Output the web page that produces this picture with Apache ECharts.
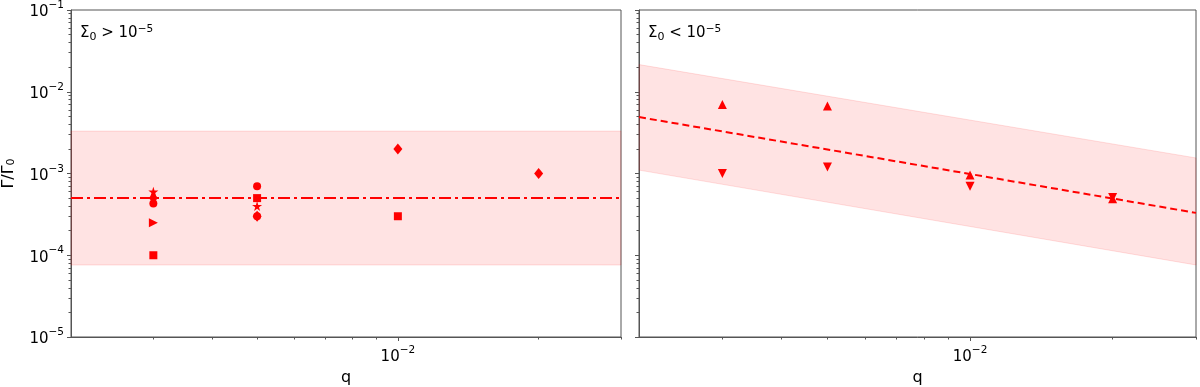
<!DOCTYPE html>
<html>
<head>
<meta charset="utf-8">
<script src="https://cdn.jsdelivr.net/npm/echarts@6/dist/echarts.min.js"></script>
<style>
html,body{margin:0;padding:0;background:#fff;}
#chart{width:1200px;height:387px;}
</style>
</head>
<body>
<div id="chart"></div>
<script>
// ---- data ----
const qRange = [0.002, 0.03];
const yRange = [1e-5, 1e-1];
const xMajorTicks = [0.01];
const xMinorTicks = [0.003, 0.004, 0.005, 0.006, 0.007, 0.008, 0.009, 0.02, 0.03];
const yMajorTicks = [1e-5, 1e-4, 1e-3, 1e-2, 1e-1];
const yMinorTicks = [2e-5,3e-5,4e-5,5e-5,6e-5,7e-5,8e-5,9e-5,
                     2e-4,3e-4,4e-4,5e-4,6e-4,7e-4,8e-4,9e-4,
                     2e-3,3e-3,4e-3,5e-3,6e-3,7e-3,8e-3,9e-3,
                     2e-2,3e-2,4e-2,5e-2,6e-2,7e-2,8e-2,9e-2];

// left panel (Sigma0 > 1e-5)
const leftBandLower = [7.6e-5, 7.6e-5];
const leftBandUpper = [3.3e-3, 3.3e-3];
const leftFit = [5e-4, 5e-4];
const leftCircle = [[0.003, 4.3e-4], [0.005, 7e-4], [0.005, 3e-4]];
const leftDiamond = [[0.003, 5e-4], [0.005, 3e-4], [0.01, 2e-3], [0.02, 1e-3]];
const leftStar = [[0.003, 6e-4], [0.005, 4e-4]];
const leftTriRight = [[0.003, 2.5e-4]];
const leftSquare = [[0.003, 1e-4], [0.005, 5e-4], [0.01, 3e-4]];

// right panel (Sigma0 < 1e-5)
const rightBandLower = [1.1e-3, 7.6e-5];
const rightBandUpper = [2.15e-2, 1.55e-3];
const rightFit = [4.9e-3, 3.3e-4];
const rightTriUp = [[0.003, 7e-3], [0.005, 6.7e-3], [0.01, 9.6e-4], [0.02, 4.9e-4]];
const rightTriDown = [[0.003, 1e-3], [0.005, 1.2e-3], [0.01, 7e-4], [0.02, 5.1e-4]];

// ---- chart ----
const RED = '#ff0000';
const AX = '#555555';
const FONT = 'DejaVu Sans';
const starPath = 'path://M50,0 L61,35 L98,35 L68,57 L79,91 L50,70 L21,91 L32,57 L2,35 L39,35 Z';
const L10 = v => Math.log10(v);

function powLabel(v) {
  const e = Math.round(v);
  return '{b|10}{s|' + (e < 0 ? '\u2212' : '') + Math.abs(e) + '}';
}
const powRich = {
  b: {fontSize: 15, fontFamily: FONT, color: '#000', verticalAlign: 'bottom', lineHeight: 20},
  s: {fontSize: 10.5, fontFamily: FONT, color: '#000', verticalAlign: 'top', lineHeight: 20, padding: [0, 0, 8, 0]}
};

// data axis (log, invisible) + tick axes in log10 space (major, minor)
function xAxes(gridIndex) {
  const lo = L10(qRange[0]), hi = L10(qRange[1]);
  return [
    {type: 'log', gridIndex, position: 'bottom', offset: 0, min: qRange[0], max: qRange[1], logBase: 10,
     axisLine: {show: false}, axisTick: {show: false}, axisLabel: {show: false}, splitLine: {show: false}},
    {type: 'value', gridIndex, position: 'bottom', offset: 0, min: lo, max: hi,
     name: 'q', nameLocation: 'middle', nameGap: 30,
     nameTextStyle: {fontSize: 16, fontFamily: FONT, color: '#000'},
     axisLine: {show: true, lineStyle: {color: AX, width: 1}},
     axisTick: {show: true, length: 4, lineStyle: {color: AX}, customValues: xMajorTicks.map(L10)},
     axisLabel: {show: true, margin: 8, customValues: xMajorTicks.map(L10), formatter: powLabel, rich: powRich},
     splitLine: {show: false}},
    {type: 'value', gridIndex, position: 'bottom', offset: 0, min: lo, max: hi,
     axisLine: {show: false},
     axisTick: {show: true, length: 2.5, lineStyle: {color: AX}, customValues: xMinorTicks.map(L10)},
     axisLabel: {show: false}, splitLine: {show: false}}
  ];
}
function yAxes(gridIndex, labels) {
  const lo = L10(yRange[0]), hi = L10(yRange[1]);
  const a = [
    {type: 'log', gridIndex, position: 'left', offset: 0, min: yRange[0], max: yRange[1], logBase: 10,
     axisLine: {show: false}, axisTick: {show: false}, axisLabel: {show: false}, splitLine: {show: false}},
    {type: 'value', gridIndex, position: 'left', offset: 0, min: lo, max: hi,
     axisLine: {show: true, lineStyle: {color: AX, width: 1}},
     axisTick: {show: true, length: 4, lineStyle: {color: AX}, customValues: yMajorTicks.map(L10)},
     axisLabel: {show: labels, margin: 7, customValues: yMajorTicks.map(L10), formatter: powLabel, rich: powRich},
     splitLine: {show: false}},
    {type: 'value', gridIndex, position: 'left', offset: 0, min: lo, max: hi,
     axisLine: {show: false},
     axisTick: {show: true, length: 2.5, lineStyle: {color: AX}, customValues: yMinorTicks.map(L10)},
     axisLabel: {show: false}, splitLine: {show: false}}
  ];
  if (labels) {
    Object.assign(a[1], {
      name: '\u0393/\u0393{s|0}', nameLocation: 'middle', nameGap: 54, nameRotate: 90,
      nameTextStyle: {fontSize: 16, fontFamily: FONT, color: '#000',
        rich: {s: {fontSize: 11, fontFamily: FONT, color: '#000', verticalAlign: 'bottom', padding: [6, 0, 0, 0]}}}
    });
  }
  return a;
}

function bandSeries(xi, yi, lower, upper) {
  return {
    type: 'custom', xAxisIndex: xi, yAxisIndex: yi, z: 1, silent: true,
    data: qRange.map((q, i) => [q, lower[i], upper[i]]),
    renderItem: function (params, api) {
      if (params.dataIndex !== 0) return null;
      const pts = [];
      for (let i = 0; i < qRange.length; i++) pts.push(api.coord([qRange[i], upper[i]]));
      for (let i = qRange.length - 1; i >= 0; i--) pts.push(api.coord([qRange[i], lower[i]]));
      return {type: 'polygon', shape: {points: pts},
        style: {fill: 'rgba(255,0,0,0.11)', stroke: 'rgba(255,0,0,0.12)', lineWidth: 1}};
    }
  };
}
function fitSeries(xi, yi, vals, dash) {
  return {type: 'line', xAxisIndex: xi, yAxisIndex: yi, z: 2, silent: true, symbol: 'none',
    data: qRange.map((q, i) => [q, vals[i]]),
    lineStyle: {color: RED, width: 2, type: dash}};
}
function scat(xi, yi, data, symbol, size, rot) {
  return {type: 'scatter', xAxisIndex: xi, yAxisIndex: yi, z: 3, silent: true,
    data, symbol, symbolSize: size, symbolRotate: rot || 0,
    itemStyle: {color: RED, opacity: 1}};
}

const chart = echarts.init(document.getElementById('chart'), null, {renderer: 'canvas'});
chart.setOption({
  animation: false,
  backgroundColor: '#fff',
  grid: [
    {left: 71, top: 10, width: 550, height: 327, show: true, borderColor: AX, borderWidth: 1,
     backgroundColor: 'transparent', containLabel: false, outerBoundsMode: 'none'},
    {left: 639, top: 10, width: 557, height: 327, show: true, borderColor: AX, borderWidth: 1,
     backgroundColor: 'transparent', containLabel: false, outerBoundsMode: 'none'}
  ],
  xAxis: xAxes(0).concat(xAxes(1)),
  yAxis: yAxes(0, true).concat(yAxes(1, false)),
  graphic: [
    {type: 'text', left: 80, top: 24, style: {text: '\u03a3{s|0} > 10{p|\u22125}', font: '15px "DejaVu Sans"', fill: '#000',
      rich: {s: {fontSize: 11, fontFamily: FONT, padding: [7, 0, 0, 0]}, p: {fontSize: 10.5, fontFamily: FONT, padding: [0, 0, 8, 0]}}}},
    {type: 'text', left: 648, top: 24, style: {text: '\u03a3{s|0} < 10{p|\u22125}', font: '15px "DejaVu Sans"', fill: '#000',
      rich: {s: {fontSize: 11, fontFamily: FONT, padding: [7, 0, 0, 0]}, p: {fontSize: 10.5, fontFamily: FONT, padding: [0, 0, 8, 0]}}}}
  ],
  series: [
    bandSeries(0, 0, leftBandLower, leftBandUpper),
    fitSeries(0, 0, leftFit, [12, 4, 3, 4]),
    scat(0, 0, leftSquare, 'rect', 8),
    scat(0, 0, leftDiamond, 'diamond', [9, 11]),
    scat(0, 0, leftCircle, 'circle', 8),
    scat(0, 0, leftTriRight, 'triangle', 9, -90),
    scat(0, 0, leftStar, starPath, 10),
    bandSeries(3, 3, rightBandLower, rightBandUpper),
    fitSeries(3, 3, rightFit, [7, 4]),
    scat(3, 3, rightTriUp, 'triangle', 9),
    scat(3, 3, rightTriDown, 'triangle', 9, 180)
  ]
});
</script>
</body>
</html>
